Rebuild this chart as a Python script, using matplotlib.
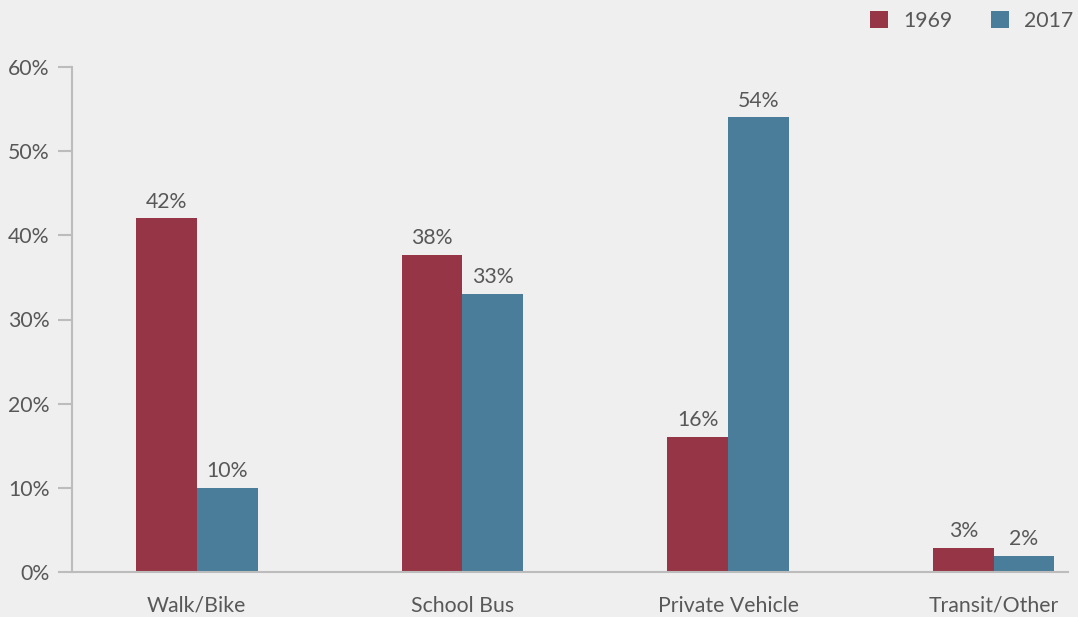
import matplotlib
matplotlib.use("Agg")
import matplotlib.pyplot as plt

categories = ["Walk/Bike", "School Bus", "Private Vehicle", "Transit/Other"]
series_names = ["1969", "2017"]
vals_1969 = [42, 37.7, 16, 2.8]
vals_2017 = [10, 33, 54, 1.9]
labels_1969 = ["42%", "38%", "16%", "3%"]
labels_2017 = ["10%", "33%", "54%", "2%"]
yticks = [0, 10, 20, 30, 40, 50, 60]
ytick_labels = ["0%", "10%", "20%", "30%", "40%", "50%", "60%"]

red = "#963545"
blue = "#4a7d9a"
bg = "#efefef"
txt = "#585858"
axc = "#bcbcbc"

plt.rcParams['font.family'] = ['Lato', 'DejaVu Sans']

W, H = 1078, 617
fig = plt.figure(figsize=(W/100, H/100), dpi=100, facecolor=bg)
ax = fig.add_axes([72/W, 1-572/H, (1068-72)/W, (572-67)/H])
ax.set_facecolor(bg)

fs = 15.3
bw = 0.229
x = list(range(len(categories)))
b1 = ax.bar([i - bw/2 for i in x], vals_1969, width=bw, color=red, label=series_names[0])
b2 = ax.bar([i + bw/2 for i in x], vals_2017, width=bw, color=blue, label=series_names[1])

for rects, labs in ((b1, labels_1969), (b2, labels_2017)):
    for r, l in zip(rects, labs):
        ax.annotate(l, (r.get_x() + r.get_width()/2, r.get_height()),
                    xytext=(0, 5), textcoords="offset points",
                    ha="center", va="bottom", fontsize=fs, color=txt)

ax.set_xlim(-0.47, 3.28)
ax.set_ylim(0, 60)
ax.set_yticks(yticks)
ax.set_yticklabels(ytick_labels)
ax.set_xticks(x)
ax.set_xticklabels(categories)
ax.tick_params(axis='y', length=10, width=1.5, color=axc, labelsize=fs, labelcolor=txt, pad=6)
ax.tick_params(axis='x', length=0, labelsize=fs, labelcolor=txt, pad=17)
for s in ("top", "right"):
    ax.spines[s].set_visible(False)
for s in ("left", "bottom"):
    ax.spines[s].set_color(axc)
    ax.spines[s].set_linewidth(1.5)

leg = fig.legend(handles=[b1, b2], labels=series_names, loc="upper right",
                 bbox_to_anchor=(1092/W, 1 + 8/H), ncol=2, frameon=False,
                 fontsize=fs, labelcolor=txt, handlelength=0.85, handleheight=0.85,
                 columnspacing=1.8, handletextpad=0.7)

fig.savefig("out.png", dpi=100, facecolor=bg)
